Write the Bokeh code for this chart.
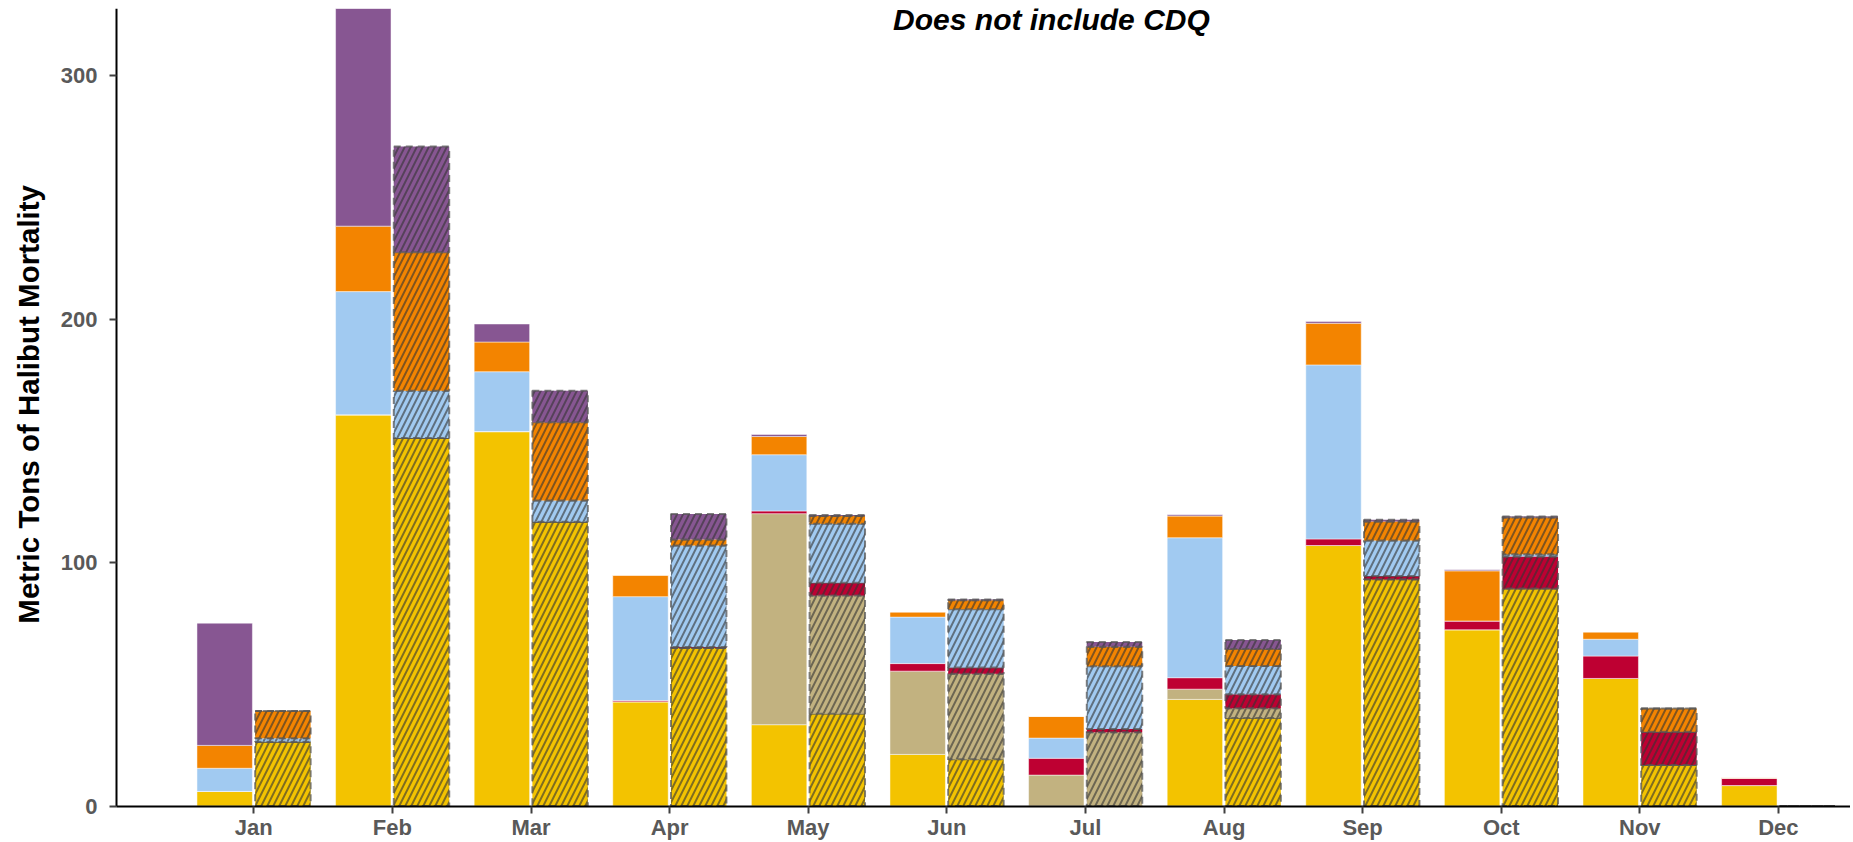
import math
from bokeh.plotting import figure
from bokeh.models import Range1d, FixedTicker, Label, ColumnDataSource
from bokeh.embed import file_html
from bokeh.resources import INLINE

months = ["Jan", "Feb", "Mar", "Apr", "May", "Jun", "Jul", "Aug", "Sep", "Oct", "Nov", "Dec"]
series = ["s1", "s2", "s3", "s4", "s5", "s6"]
colors = ["#F3C300", "#C2B280", "#BE0032", "#A1CAF1", "#F38400", "#875692"]

# first bar of each month (solid)
a_s1 = [6.0, 160.7, 153.8, 42.8, 33.4, 21.2, 0.0, 43.8, 107.0, 72.4, 52.4, 8.4]
a_s2 = [0.0, 0.0, 0.0, 0.0, 86.7, 34.2, 12.7, 4.2, 0.0, 0.0, 0.0, 0.0]
a_s3 = [0.0, 0.0, 0.0, 0.5, 1.1, 3.1, 6.9, 4.7, 2.7, 3.6, 9.2, 3.0]
a_s4 = [9.5, 50.6, 24.6, 42.7, 23.1, 19.1, 8.3, 57.5, 71.5, 0.0, 6.9, 0.0]
a_s5 = [9.4, 26.9, 12.2, 8.8, 7.5, 2.1, 8.9, 8.9, 17.1, 20.6, 3.0, 0.2]
a_s6 = [50.2, 89.6, 7.4, 0.0, 0.8, 0.0, 0.0, 0.5, 0.7, 0.4, 0.0, 0.0]

# second bar of each month (hatched)
b_s1 = [26.4, 151.2, 116.8, 64.9, 37.9, 19.2, 0.0, 36.1, 93.1, 89.3, 16.8, 0.0]
b_s2 = [0.0, 0.0, 0.0, 0.0, 48.6, 35.1, 30.3, 4.1, 0.0, 0.0, 0.0, 0.0]
b_s3 = [0.0, 0.0, 0.0, 0.4, 5.2, 2.6, 1.3, 5.7, 1.4, 13.2, 13.7, 0.0]
b_s4 = [1.4, 19.4, 8.7, 41.7, 24.2, 23.9, 25.8, 11.6, 14.6, 0.9, 0.0, 0.0]
b_s5 = [11.2, 56.9, 32.1, 2.5, 3.2, 3.7, 8.0, 7.0, 7.8, 15.1, 9.6, 0.0]
b_s6 = [0.0, 43.4, 13.0, 10.5, 0.4, 0.3, 2.0, 3.7, 0.7, 0.4, 0.0, 0.0]

y_ticks = [0, 100, 200, 300]

idx = list(range(len(months)))
src_a = ColumnDataSource(dict(x=[i - 0.21 for i in idx], s1=a_s1, s2=a_s2, s3=a_s3,
                              s4=a_s4, s5=a_s5, s6=a_s6))
src_b = ColumnDataSource(dict(x=[i + 0.21 for i in idx], s1=b_s1, s2=b_s2, s3=b_s3,
                              s4=b_s4, s5=b_s5, s6=b_s6))

FONT = "Liberation Sans"
X0, X1 = -0.99, 11.52   # extent of the drawn axes
Y1 = 327.6

p = figure(width=1850, height=840, output_backend="svg", toolbar_location=None,
           x_range=Range1d(-1.8275, X1), y_range=Range1d(-14.17, Y1),
           min_border_left=0, min_border_right=0, min_border_top=8,
           min_border_bottom=0)
p.outline_line_color = None
p.xgrid.visible = False
p.ygrid.visible = False
p.background_fill_color = "white"

p.vbar_stack(series, x="x", width=0.4, source=src_a, fill_color=colors,
             line_color="white", line_width=0.8, line_alpha=0.6)
p.vbar_stack(series, x="x", width=0.4, source=src_b, fill_color=colors,
             line_color="#555555", line_alpha=0.75, line_width=2, line_dash="7 5",
             hatch_pattern="/", hatch_color="#333333", hatch_alpha=0.6,
             hatch_weight=2, hatch_scale=12)

# axes
p.xaxis.ticker = FixedTicker(ticks=idx)
p.xaxis.major_label_overrides = {i: m for i, m in zip(idx, months)}
p.xaxis.fixed_location = 0
p.xaxis.bounds = (X0, X1)
p.xaxis.major_label_standoff = 2
p.yaxis.ticker = FixedTicker(ticks=y_ticks)
p.yaxis.fixed_location = X0
p.yaxis.bounds = (0, Y1)
for ax in (p.xaxis[0], p.yaxis[0]):
    ax.axis_line_color = "black"
    ax.axis_line_width = 2
    ax.major_tick_in = 0
    ax.major_tick_out = 7
    ax.major_tick_line_color = "#404040"
    ax.major_tick_line_width = 2
    ax.minor_tick_line_color = None
    ax.major_label_text_font = FONT
    ax.major_label_text_font_style = "bold"
    ax.major_label_text_font_size = "22px"
    ax.major_label_text_color = "#595959"
p.yaxis.major_label_standoff = 12

# y axis title, centred on the 0..327 span of the axis
p.add_layout(Label(x=X0, y=165, x_offset=-88, text="Metric Tons of Halibut Mortality",
                   angle=math.pi / 2, text_font=FONT, text_font_style="bold",
                   text_font_size="29.5px", text_align="center",
                   text_baseline="middle", text_color="black"))

p.add_layout(Label(x=5.755, y=Y1, y_offset=-11, text="Does not include CDQ",
                   text_font=FONT, text_font_style="bold italic",
                   text_font_size="30px", text_align="center",
                   text_baseline="alphabetic", text_color="black"))

open("out.html", "w").write(file_html(p, INLINE))
